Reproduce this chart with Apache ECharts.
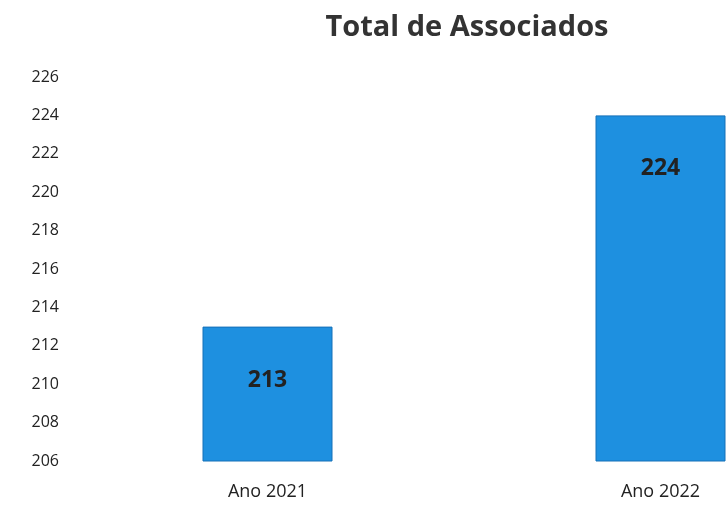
<!DOCTYPE html>
<html>
<head>
<meta charset="utf-8">
<script src="https://cdn.jsdelivr.net/npm/echarts@6/dist/echarts.min.js"></script>
<style>
  html, body { margin: 0; padding: 0; background: #fff; }
  #chart { width: 727px; height: 508px; }
</style>
</head>
<body>
<div id="chart"></div>
<script>
var categories = ['Ano 2021', 'Ano 2022']
var associados = [213, 224]
var yMin = 206
var yMax = 226
var yStep = 2

var chart = echarts.init(document.getElementById('chart'))
chart.setOption({
  backgroundColor: '#ffffff',
  title: {
    text: 'Total de Associados',
    left: 462,
    top: 8,
    textAlign: 'center',
    textStyle: { fontFamily: 'Open Sans', fontSize: 29, fontWeight: 'bold', color: '#333' }
  },
  grid: { left: 71, right: -130, top: 77, bottom: 47, outerBoundsMode: 'none', containLabel: false },
  xAxis: {
    type: 'category',
    data: categories,
    axisLine: { show: false },
    axisTick: { show: false },
    axisLabel: { fontFamily: 'Open Sans', fontSize: 18, color: '#222', margin: 22 }
  },
  yAxis: {
    type: 'value',
    min: yMin,
    max: yMax,
    interval: yStep,
    axisLine: { show: false },
    axisTick: { show: false },
    splitLine: { show: false },
    axisLabel: { fontFamily: 'Open Sans', fontSize: 16, color: '#222', margin: 12 }
  },
  series: [{
    type: 'bar',
    data: associados,
    barWidth: 130,
    itemStyle: { color: '#1e90e0', borderColor: '#1570b8', borderWidth: 1 },
    label: {
      show: true,
      position: 'insideTop',
      distance: 42,
      fontFamily: 'Open Sans',
      fontSize: 23,
      fontWeight: 'bold',
      color: '#222'
    }
  }]
})
</script>
</body>
</html>
